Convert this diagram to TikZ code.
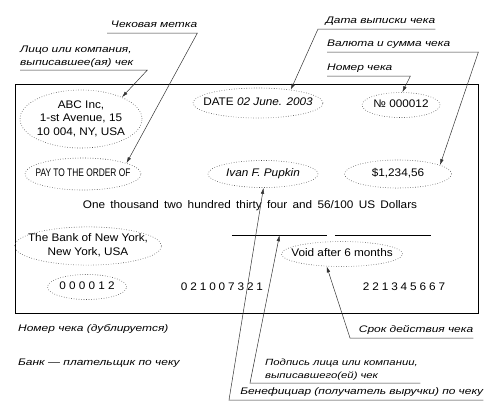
\documentclass[tikz,border=0pt]{standalone}
\usepackage{fontspec}
\setmainfont{Liberation Sans}[FakeStretch=1.07]
\newfontfamily\narrowfont{Liberation Sans}[FakeStretch=0.76]
\newfontfamily\notefont{Liberation Sans}[FakeStretch=1.26]
\usetikzlibrary{arrows.meta, shapes.geometric}

\newcommand{\ovaltext}[1]{\makebox[0pt]{\begin{tabular}{@{}c@{}}#1\end{tabular}}}
\newcommand{\spaced}[2]{{\spaceskip=#1\relax #2}}

\begin{document}
\begin{tikzpicture}[x=1pt, y=-1pt, >={Latex[length=6pt, width=3.5pt]},
    every node/.style={font=\fontsize{11}{13.5}\selectfont},
    oval/.style={ellipse, draw=black!70, line width=0.6pt, dash pattern=on 0.6pt off 1.9pt, inner sep=0pt},
    lbl/.style={font=\notefont\fontsize{9.5}{13}\selectfont\itshape, inner xsep=0pt, inner ysep=3.5pt, text depth=2pt, anchor=south west},
    lbltwo/.style={lbl, text depth=, inner ysep=2.5pt},
    lead/.style={draw=black!80, line width=0.5pt},
    sigline/.style={inner sep=0pt, minimum height=0pt}]

  \useasboundingbox (0,0) rectangle (503,413);

  % Check frame
  \node[draw, line width=0.8pt, minimum width=463pt, minimum height=229pt, inner sep=0pt] (check) at (246.5,198.5) {};

  % Fields of the check
  \node[oval, minimum width=122pt, minimum height=58pt] (abc) at (81,119) {\ovaltext{ABC Inc,\\1-st Avenue, 15\\10 004, NY, USA}};
  \node[oval, minimum width=130pt, minimum height=30pt] (date) at (258,103) {\ovaltext{DATE \textit{02 June. 2003}}};
  \node[oval, minimum width=78pt, minimum height=25pt] (num) at (401,105) {\ovaltext{№ 000012}};
  \node[oval, minimum width=116pt, minimum height=32pt] (pay) at (83,174) {\ovaltext{\narrowfont PAY TO THE ORDER OF}};
  \node[oval, minimum width=110pt, minimum height=27pt] (payee) at (263,174) {\ovaltext{\textit{Ivan F. Pupkin}}};
  \node[oval, minimum width=107pt, minimum height=28pt] (amount) at (398,174) {\ovaltext{\$1,234,56}};
  \node (words) at (250,206) {\spaced{5.3pt}{One thousand two hundred thirty four and 56/100 US Dollars}};
  \node[oval, minimum width=121pt, minimum height=25pt] (void) at (342,254) {\ovaltext{Void after 6 months}};
  \node[oval, minimum width=147pt, minimum height=35pt] (bank) at (88,246) {\ovaltext{The Bank of New York,\\New York, USA}};
  \node[oval, minimum width=79pt, minimum height=25pt] (micr) at (87,287) {\ovaltext{\spaced{3.2pt}{0 0 0 0 1 2}}};
  \node (routing) at (222,287) {\spaced{2.9pt}{0 2 1 0 0 7 3 2 1}};
  \node (account) at (404,287) {\spaced{2.9pt}{2 2 1 3 4 5 6 6 7}};

  % Signature lines
  \node[sigline, minimum width=95pt] (sig1) at (279.5,235) {};
  \node[sigline, minimum width=96pt] (sig2) at (383,235) {};
  \draw (sig1.west) -- (sig1.east);
  \draw (sig2.west) -- (sig2.east);

  % Labels
  \node[lbl, text width=90pt, align=right] (lblMark) at (107,33) {Чековая метка};
  \node[lbltwo, text width=127pt, align=left] (lblDrawer) at (20,70) {Лицо или компания,\\выписавшее(ая) чек};
  \node[lbl, text width=117pt, align=right] (lblDate) at (318,29) {Дата выписки чека};
  \node[lbl, text width=151pt, align=left] (lblCur) at (327,52) {Валюта и сумма чека};
  \node[lbl, text width=83pt, align=left] (lblNum) at (327,76) {Номер чека};
  \node[lbl, text width=123pt, align=right] (lblTerm) at (350,338) {Срок действия чека};
  \node[lbltwo, text width=155pt, align=left, font=\notefont\fontsize{9}{13}\selectfont\itshape] (lblSign) at (265,383) {Подпись лица или компании,\\выписавшего(ей) чек};
  \node[lbl, text width=254pt, align=right] (lblBen) at (229,400) {Бенефициар (получатель выручки) по чеку};
  \node[lbl, anchor=base west, text depth=] (lblMicr) at (18,331) {Номер чека (дублируется)};
  \node[lbl, anchor=base west, text depth=] (lblBank) at (18,365) {Банк — плательщик по чеку};

  % Leaders
  \draw[lead, ->] (lblMark.south west) -- (lblMark.south east) -- (pay.14);
  \draw[lead, ->] (lblDrawer.south west) -- (lblDrawer.south east) -- (abc.28);
  \draw[lead, ->] (lblDate.south east) -- (lblDate.south west) -- (date.22);
  \draw[lead, ->] (lblCur.south west) -- (lblCur.south east) -- (amount.12);
  \draw[lead, ->] (lblNum.south west) -- (lblNum.south east) -- (num.84);
  \draw[lead, ->] (lblTerm.south east) -- (lblTerm.south west) -- (void.219);
  \draw[lead, ->] (lblSign.south east) -- ([xshift=-15pt]lblSign.south west) -- (sig1.south);
  \draw[lead, ->] (lblBen.south east) -- (lblBen.south west) -- (payee.272);

\end{tikzpicture}
\end{document}
